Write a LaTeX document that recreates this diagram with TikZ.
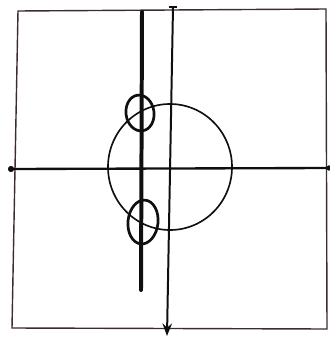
\documentclass[tikz,border=0pt]{standalone}
\usepackage{tikz}
\usetikzlibrary{arrows.meta, positioning, calc}
\definecolor{InkBlack}{RGB}{15, 15, 15}
\definecolor{FrameInk}{RGB}{60, 45, 45}

\begin{document}
\begin{tikzpicture}[x=0.03cm, y=-0.03cm, >=Stealth]
    \useasboundingbox (0,0) rectangle (329,338);
    % Frame
    \draw[color=FrameInk, line width=1.2pt] (18,11) -- (326,9) -- (327,329) -- (12,328) -- cycle;

    % Axes
    \coordinate (xl) at (11,169);
    \coordinate (xr) at (329,168);
    \coordinate (yt) at (173,7);
    \coordinate (yb) at (167,336);
    \draw[color=InkBlack, line width=2pt] (xl) -- (xr);
    \filldraw[color=InkBlack] (xl) circle (2.4pt);
    \filldraw[color=InkBlack] (xr) circle (2pt);
    \draw[color=InkBlack, line width=1.7pt, ->] (yt) -- (yb);
    \draw[color=InkBlack, line width=2.2pt] (169,7) -- (177,7);

    % Unit circle
    \draw[color=InkBlack, line width=1.4pt] (170,167) circle [x radius=62, y radius=-63];

    % Thick vertical line
    \coordinate (lt) at (142,12);
    \coordinate (lb) at (141,290);
    \draw[color=InkBlack, line width=3.4pt, line cap=round] (lt) -- (lb);

    % Upper loop
    \draw[color=InkBlack, line width=2.3pt, rotate around={8:(140,113)}] (140,113) ellipse [x radius=14, y radius=-18];

    % Lower loop
    \draw[color=InkBlack, line width=2.3pt, rotate around={-6:(143,222)}] (143,222) ellipse [x radius=15, y radius=-22];
\end{tikzpicture}
\end{document}
